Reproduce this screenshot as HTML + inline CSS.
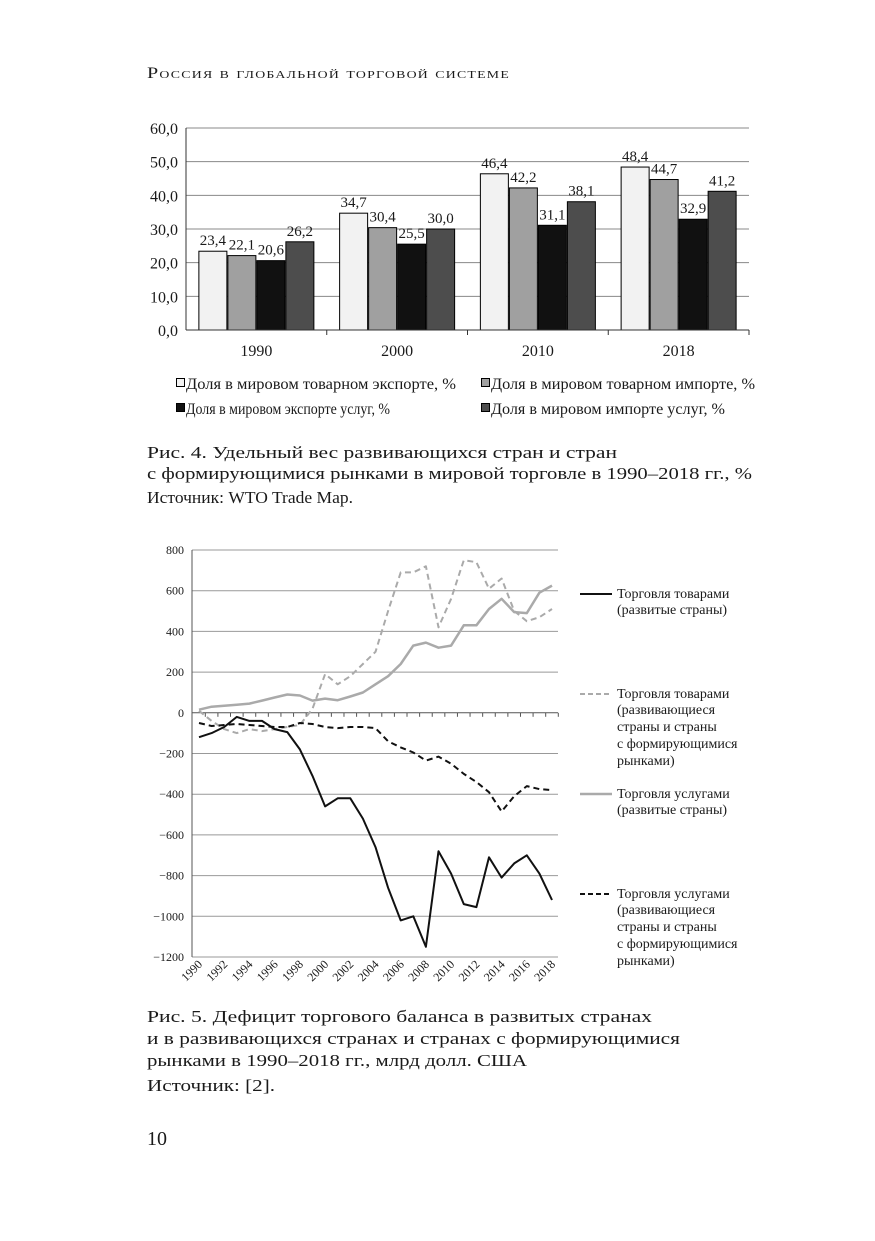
<!DOCTYPE html>
<html><head><meta charset="utf-8">
<style>
html,body{margin:0;padding:0;background:#fff;}
svg{display:block;}
text{font-family:"Liberation Serif",serif;fill:#1a1a1a;}
</style></head>
<body>
<svg id="page" width="875" height="1241" viewBox="0 0 875 1241" xmlns="http://www.w3.org/2000/svg">
<text x="147" y="78" font-size="16" textLength="363" lengthAdjust="spacingAndGlyphs" style="font-variant:small-caps;letter-spacing:1px">Россия в глобальной торговой системе</text>

<g id="bar-chart"></g>
<g>
  <rect x="176.5" y="378.5" width="8" height="8" fill="#f2f2f2" stroke="#000"/>
  <text x="186" y="389" font-size="16" textLength="270" lengthAdjust="spacingAndGlyphs">Доля в мировом товарном экспорте, %</text>
  <rect x="481.5" y="378.5" width="8" height="8" fill="#a0a0a0" stroke="#000"/>
  <text x="491" y="389" font-size="16" textLength="264" lengthAdjust="spacingAndGlyphs">Доля в мировом товарном импорте, %</text>
  <rect x="176.5" y="403.5" width="8" height="8" fill="#111" stroke="#000"/>
  <text x="186" y="414" font-size="16" textLength="204" lengthAdjust="spacingAndGlyphs">Доля в мировом экспорте услуг, %</text>
  <rect x="481.5" y="403.5" width="8" height="8" fill="#4d4d4d" stroke="#000"/>
  <text x="491" y="414" font-size="16" textLength="234" lengthAdjust="spacingAndGlyphs">Доля в мировом импорте услуг, %</text>
</g>

<g font-size="17">
  <text x="147" y="458" textLength="470" lengthAdjust="spacingAndGlyphs">Рис. 4. Удельный вес развивающихся стран и стран</text>
  <text x="147" y="479" textLength="605" lengthAdjust="spacingAndGlyphs">с формирующимися рынками в мировой торговле в 1990–2018 гг., %</text>
  <text x="147" y="503" textLength="206" lengthAdjust="spacingAndGlyphs">Источник: WTO Trade Map.</text>
</g>

<g id="line-chart"></g>
<g font-size="14">
  <line x1="580" y1="594" x2="612" y2="594" stroke="#111" stroke-width="2"/>
  <text><tspan x="617" y="598">Торговля товарами</tspan><tspan x="617" y="614">(развитые страны)</tspan></text>
  <line x1="580" y1="694" x2="612" y2="694" stroke="#aaa" stroke-width="2" stroke-dasharray="5,3"/>
  <text><tspan x="617" y="698">Торговля товарами</tspan><tspan x="617" y="714">(развивающиеся</tspan><tspan x="617" y="731">страны и страны</tspan><tspan x="617" y="748">с формирующимися</tspan><tspan x="617" y="765">рынками)</tspan></text>
  <line x1="580" y1="794" x2="612" y2="794" stroke="#aaa" stroke-width="2.5"/>
  <text><tspan x="617" y="798">Торговля услугами</tspan><tspan x="617" y="814">(развитые страны)</tspan></text>
  <line x1="580" y1="894" x2="612" y2="894" stroke="#111" stroke-width="2" stroke-dasharray="5,3"/>
  <text><tspan x="617" y="898">Торговля услугами</tspan><tspan x="617" y="914">(развивающиеся</tspan><tspan x="617" y="931">страны и страны</tspan><tspan x="617" y="948">с формирующимися</tspan><tspan x="617" y="965">рынками)</tspan></text>
</g>

<g font-size="17">
  <text x="147" y="1022" textLength="505" lengthAdjust="spacingAndGlyphs">Рис. 5. Дефицит торгового баланса в развитых странах</text>
  <text x="147" y="1044" textLength="533" lengthAdjust="spacingAndGlyphs">и в развивающихся странах и странах с формирующимися</text>
  <text x="147" y="1066" textLength="380" lengthAdjust="spacingAndGlyphs">рынками в 1990–2018 гг., млрд долл. США</text>
  <text x="147" y="1091" textLength="128" lengthAdjust="spacingAndGlyphs">Источник: [2].</text>
</g>
<text x="147" y="1145" font-size="20">10</text>
</svg>
<script>
const NS='http://www.w3.org/2000/svg';
// ---- bar chart data ----
const barYears=['1990','2000','2010','2018'];
const goodsExport=[23.4,34.7,46.4,48.4];
const goodsImport=[22.1,30.4,42.2,44.7];
const servicesExport=[20.6,25.5,31.1,32.9];
const servicesImport=[26.2,30.0,38.1,41.2];
const barTicks=[0,10,20,30,40,50,60];
// ---- line chart data ----
const lineYears=[1990,1991,1992,1993,1994,1995,1996,1997,1998,1999,2000,2001,2002,2003,2004,2005,2006,2007,2008,2009,2010,2011,2012,2013,2014,2015,2016,2017,2018];
const goodsDeveloped=[-120,-100,-70,-20,-40,-40,-80,-95,-180,-310,-460,-420,-420,-520,-660,-860,-1020,-1000,-1150,-680,-790,-940,-955,-710,-810,-740,-700,-790,-920];
const goodsDeveloping=[10,-40,-80,-100,-80,-90,-80,-70,-60,20,190,140,180,240,300,500,690,690,720,420,560,750,740,610,660,500,450,470,510];
const servicesDeveloped=[15,30,35,40,45,60,75,90,85,60,70,62,80,100,140,180,240,330,345,320,330,430,430,510,560,495,490,590,625];
const servicesDeveloping=[-50,-65,-60,-55,-60,-65,-70,-70,-50,-55,-70,-75,-70,-70,-75,-140,-170,-195,-235,-215,-250,-300,-340,-390,-485,-410,-360,-375,-380];
const lineTicks=[800,600,400,200,0,-200,-400,-600,-800,-1000,-1200];

function mk(tag,attrs,parent){const e=document.createElementNS(NS,tag);for(const k in attrs)e.setAttribute(k,attrs[k]);parent.appendChild(e);return e;}
const fmt=v=>v.toFixed(1).replace('.',',');

// bar chart
(function(){
  const g=document.getElementById('bar-chart');
  const x0=186,x1=749,yb=330,yt=128;
  const y=v=>yb-(v/60)*(yb-yt);
  barTicks.forEach(t=>{
    const l=mk('line',{x1:x0,x2:x1,y1:y(t),y2:y(t),stroke:'#888','stroke-width':1},g);
    
    const tx=mk('text',{x:178,y:y(t)+6,'font-size':16,'text-anchor':'end'},g);tx.textContent=fmt(t);
    
  });
  mk('line',{x1:x0,x2:x0,y1:yt,y2:yb,stroke:'#333'},g);
  const series=[goodsExport,goodsImport,servicesExport,servicesImport];
  const fills=['#f2f2f2','#a0a0a0','#111','#4d4d4d'];
  const gw=(x1-x0)/barYears.length,bw=28;
  barYears.forEach((yr,i)=>{
    const cx=x0+gw*(i+0.5);
    mk('line',{x1:x0+gw*(i+1),x2:x0+gw*(i+1),y1:yb,y2:yb+5,stroke:'#333'},g);
    series.forEach((s,j)=>{
      const bx=cx-2*bw-1.5+j*(bw+1);
      const r=mk('rect',{x:bx,y:y(s[i]),width:bw,height:yb-y(s[i]),fill:fills[j],stroke:'#000','stroke-width':1},g);
      
      const t=mk('text',{x:bx+bw/2,y:y(s[i])-6,'font-size':15,'text-anchor':'middle'},g);t.textContent=fmt(s[i]);
      
    });
    const t=mk('text',{x:cx,y:356,'font-size':16,'text-anchor':'middle'},g);t.textContent=yr;
    
  });
  mk('line',{x1:x0,x2:x1,y1:yb,y2:yb,stroke:'#333'},g);
})();

// line chart
(function(){
  const g=document.getElementById('line-chart');
  const x0=192,x1=558,y800=550,yLow=957;
  const y=v=>y800+(800-v)/2000*(yLow-y800);
  const x=yr=>199+(yr-1990)*(552-199)/28;
  lineTicks.forEach(t=>{
    const l=mk('line',{x1:x0,x2:x1,y1:y(t),y2:y(t),stroke:t===0?'#555':'#999','stroke-width':1},g);
    
    const tx=mk('text',{x:184,y:y(t)+4,'font-size':12,'text-anchor':'end'},g);tx.textContent=String(t).replace('-','−');
    
  });
  mk('line',{x1:x0,x2:x0,y1:y800,y2:yLow,stroke:'#555'},g);
  lineYears.forEach(yr=>{
    mk('line',{x1:x(yr)+6.3,x2:x(yr)+6.3,y1:y(0),y2:y(0)+4,stroke:'#555'},g);
    if(yr%2===0){
      const t=mk('text',{x:x(yr)+4,y:yLow+8,'font-size':12,'text-anchor':'end',transform:`rotate(-45 ${x(yr)+4} ${yLow+8})`},g);
      t.textContent=yr;
    }
  });
  const defs=[[servicesDeveloped,'#aaa',2.5,'','services-developed-line'],[goodsDeveloping,'#aaa',2,'6,4','goods-developing-line'],[servicesDeveloping,'#111',2,'6,4','services-developing-line'],[goodsDeveloped,'#111',2,'','goods-developed-line']];
  defs.forEach(d=>{
    const pts=d[0].map((v,i)=>x(lineYears[i]).toFixed(1)+','+y(v).toFixed(1)).join(' ');
    const p=mk('polyline',{points:pts,fill:'none',stroke:d[1],'stroke-width':d[2],'stroke-linejoin':'round'},g);
    if(d[3])p.setAttribute('stroke-dasharray',d[3]);
    
  });
})();
</script>
</body></html>
